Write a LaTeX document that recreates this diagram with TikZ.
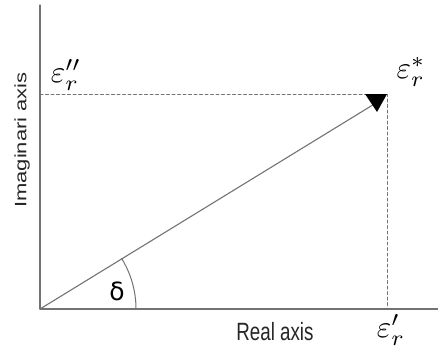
\documentclass[tikz,border=0pt]{standalone}
\usepackage{fontspec}
\setmainfont{Liberation Sans}
\newfontfamily\deltafont{DejaVu Sans}
\begin{document}
\begin{tikzpicture}[line cap=round, line join=round, x=1pt, y=1pt]
				\useasboundingbox (0, 0) rectangle (438, 349);
				\tikzset{
					axis/.style={draw=black!55, line width=1.1pt},
					guide/.style={draw=black!55, line width=1pt, dash pattern=on 3pt off 2.5pt},
					sym/.style={inner sep=0pt, scale=3.1},
					word/.style={inner sep=0pt, text=black!85, font=\fontsize{25}{27}\selectfont, xscale=0.75}
				}
				\path 
				(40, 40) coordinate (O)
				(40, 344) coordinate (Y)
				(438, 40) coordinate (X)
				(40, 255) coordinate (I)
				(387, 255) coordinate (P)
				(387, 40) coordinate (R)
				(376, 246) coordinate (T);
				\draw[axis] (Y) -- (O) -- (X);
				\draw[guide] (I) -- (P) -- (R);
				\draw[draw=black!55, line width=1.1pt] (O) -- (T);
				\fill[black] (365, 255) -- (387, 255) -- (377, 237) -- cycle;
				\draw[draw=black!55, line width=1pt] (O) ++(0:96) arc[start angle=0, end angle=31.8, radius=96];
				% labels
				\node[sym] at (66, 274) {$\varepsilon_r''$};
				\node[sym] at (411, 277) {$\varepsilon_r^{*}$};
				\node[sym] at (391, 19) {$\varepsilon_r'$};
				\node[inner sep=0pt, font=\deltafont\fontsize{25}{27}\selectfont] at (117, 58) {δ};
				\node[word] at (275, 17) {Real axis};
				\node[word, rotate=90, font=\fontsize{22}{24}\selectfont] at (22, 209) {Imaginari axis};
			\end{tikzpicture}
\end{document}
